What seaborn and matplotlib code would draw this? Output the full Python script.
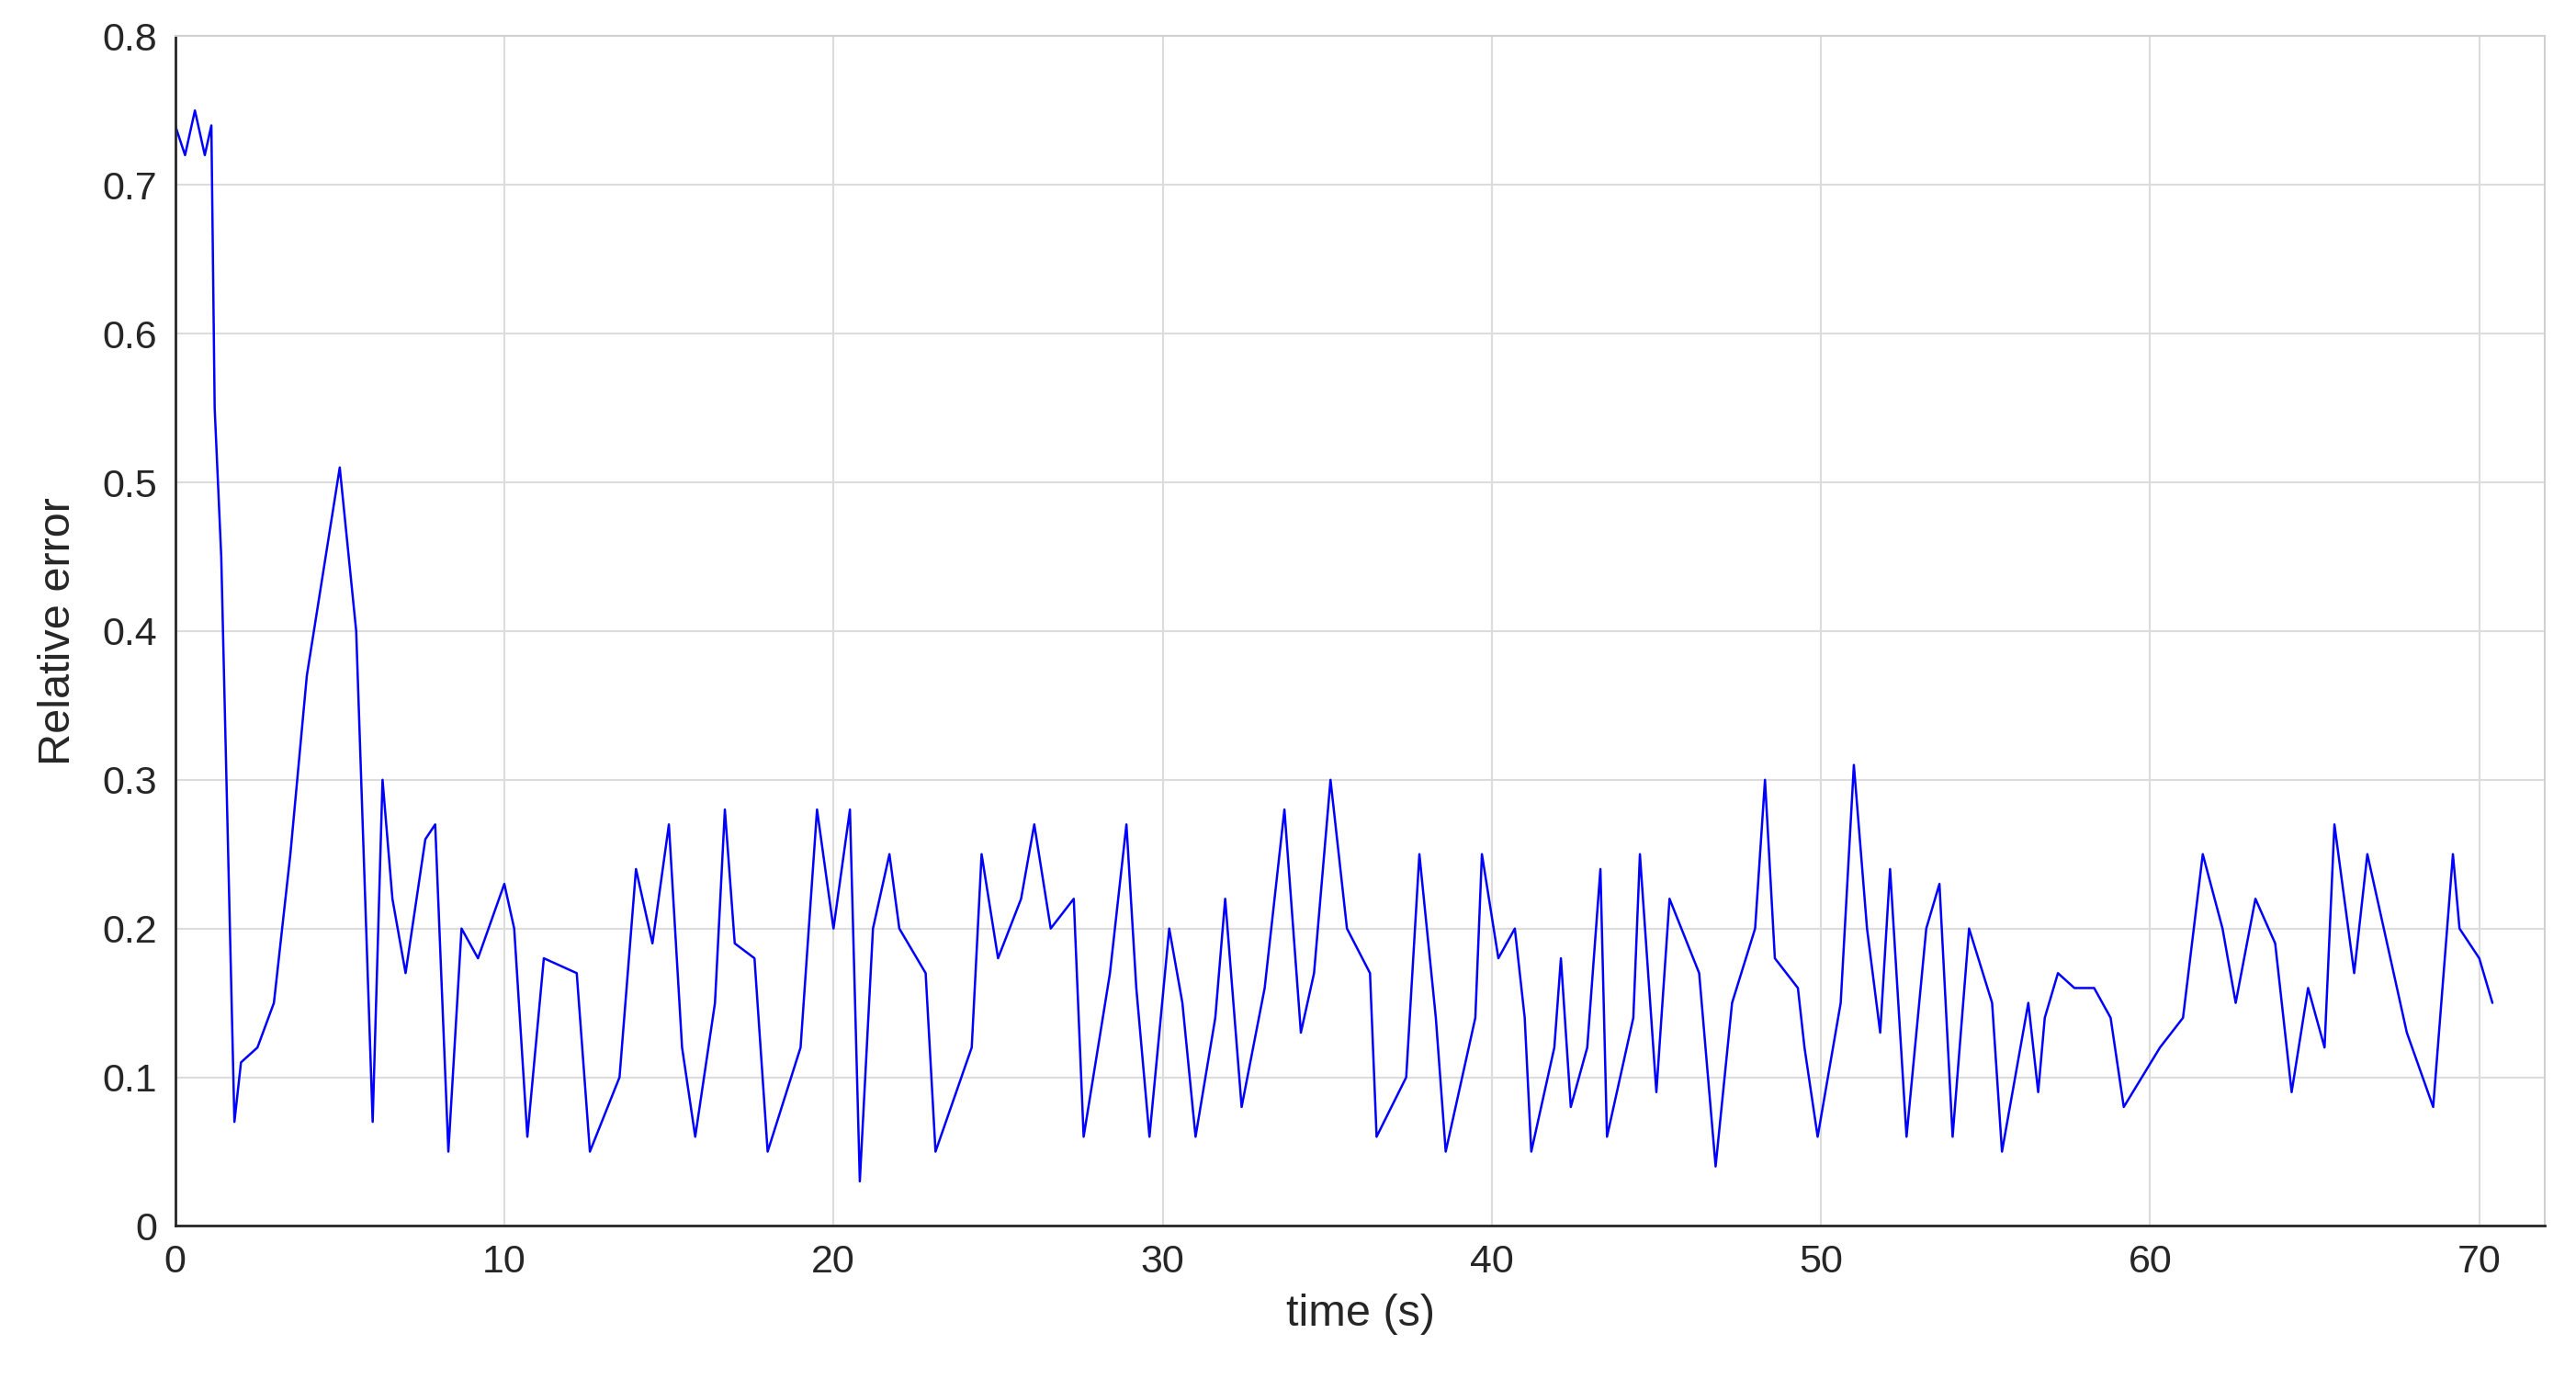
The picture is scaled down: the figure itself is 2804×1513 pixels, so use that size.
import matplotlib.pyplot as plt
import seaborn as sns
import pandas as pd

# key points (time in s, relative error)
time_s = [0, 0.3, 0.6, 0.9, 1.1, 1.2, 1.4, 1.8, 2.0, 2.5, 3.0, 3.5, 4.0, 4.5, 5.0, 5.5, 6.0, 6.3, 6.6,
          7.0, 7.6, 7.9, 8.3, 8.7, 9.2, 10.0, 10.3, 10.7, 11.2, 12.2, 12.6, 13.5, 14.0, 14.5, 15.0,
          15.4, 15.8, 16.4, 16.7, 17.0, 17.6, 18.0, 19.0, 19.5, 20.0, 20.5, 20.8, 21.2, 21.7, 22.0,
          22.8, 23.1, 24.2, 24.5, 25.0, 25.7, 26.1, 26.6, 27.3, 27.6, 28.4, 28.9, 29.2, 29.6, 30.2,
          30.6, 31.0, 31.6, 31.9, 32.4, 33.1, 33.7, 34.2, 34.6, 35.1, 35.6, 36.3, 36.5, 37.4, 37.8,
          38.3, 38.6, 39.5, 39.7, 40.2, 40.7, 41.0, 41.2, 41.9, 42.1, 42.4, 42.9, 43.3, 43.5, 44.3,
          44.5, 45.0, 45.4, 46.3, 46.8, 47.3, 48.0, 48.3, 48.6, 49.3, 49.5, 49.9, 50.6, 51.0, 51.4,
          51.8, 52.1, 52.6, 53.2, 53.6, 54.0, 54.5, 55.2, 55.5, 56.3, 56.6, 56.8, 57.2, 57.7, 58.3,
          58.8, 59.2, 60.3, 61.0, 61.6, 62.2, 62.6, 63.2, 63.8, 64.3, 64.8, 65.3, 65.6, 66.2, 66.6,
          67.4, 67.8, 68.6, 69.2, 69.4, 70.0, 70.4]
rel_error = [0.74, 0.72, 0.75, 0.72, 0.74, 0.55, 0.45, 0.07, 0.11, 0.12, 0.15, 0.25, 0.37, 0.44, 0.51,
             0.40, 0.07, 0.30, 0.22, 0.17, 0.26, 0.27, 0.05, 0.20, 0.18, 0.23, 0.20, 0.06, 0.18, 0.17,
             0.05, 0.10, 0.24, 0.19, 0.27, 0.12, 0.06, 0.15, 0.28, 0.19, 0.18, 0.05, 0.12, 0.28, 0.20,
             0.28, 0.03, 0.20, 0.25, 0.20, 0.17, 0.05, 0.12, 0.25, 0.18, 0.22, 0.27, 0.20, 0.22, 0.06,
             0.17, 0.27, 0.16, 0.06, 0.20, 0.15, 0.06, 0.14, 0.22, 0.08, 0.16, 0.28, 0.13, 0.17, 0.30,
             0.20, 0.17, 0.06, 0.10, 0.25, 0.14, 0.05, 0.14, 0.25, 0.18, 0.20, 0.14, 0.05, 0.12, 0.18,
             0.08, 0.12, 0.24, 0.06, 0.14, 0.25, 0.09, 0.22, 0.17, 0.04, 0.15, 0.20, 0.30, 0.18, 0.16,
             0.12, 0.06, 0.15, 0.31, 0.20, 0.13, 0.24, 0.06, 0.20, 0.23, 0.06, 0.20, 0.15, 0.05, 0.15,
             0.09, 0.14, 0.17, 0.16, 0.16, 0.14, 0.08, 0.12, 0.14, 0.25, 0.20, 0.15, 0.22, 0.19, 0.09,
             0.16, 0.12, 0.27, 0.17, 0.25, 0.17, 0.13, 0.08, 0.25, 0.20, 0.18, 0.15]

df = pd.DataFrame({"t": time_s, "e": rel_error})

sns.set_style("white")
plt.rcParams['font.family'] = ['Liberation Sans', 'DejaVu Sans']
fig, ax = plt.subplots(figsize=(28.04, 15.13), dpi=100)
sns.lineplot(data=df, x="t", y="e", color="#0000ff", linewidth=1.8, ax=ax)

ax.set_xlim(0, 72)
ax.set_ylim(0, 0.8)
ax.set_xticks(range(0, 71, 10))
ax.set_yticks([i / 10 for i in range(9)])
ax.set_yticklabels(["0"] + [f"{i/10:.1f}" for i in range(1, 9)])
ax.grid(True, color="#dcdcdc", linewidth=1.5)
ax.tick_params(labelsize=31, colors="#262626", direction="in", length=8, width=1.5, pad=14)
ax.set_xlabel("time (s)", fontsize=35, color="#262626", labelpad=10)
ax.set_ylabel("Relative error", fontsize=35, color="#262626", labelpad=18)
for s in ["left", "bottom"]:
    ax.spines[s].set_color("#262626")
    ax.spines[s].set_linewidth(2)
for s in ["top", "right"]:
    ax.spines[s].set_color("#d0d0d0")
    ax.spines[s].set_linewidth(1.5)

plt.subplots_adjust(left=0.068, right=0.988, top=0.974, bottom=0.118)
plt.savefig("out.png")
